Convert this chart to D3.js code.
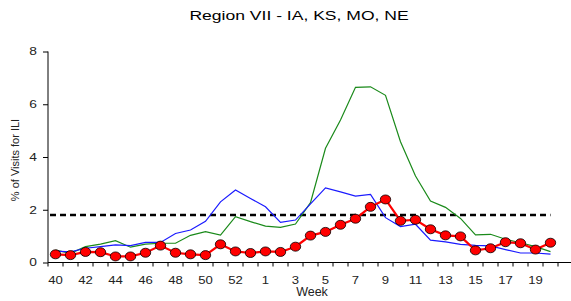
<!DOCTYPE html>
<html>
<head>
<meta charset="utf-8">
<script src="https://cdn.jsdelivr.net/npm/d3@7"></script>
<style>
  body { margin: 0; background: #fff; }
  text { font-family: "Liberation Sans", Arial, sans-serif; }
</style>
</head>
<body>
<script>
// weeks of the season (includes week 53)
const weeks = [40, 41, 42, 43, 44, 45, 46, 47, 48, 49, 50, 51, 52, 53,
  1, 2, 3, 4, 5, 6, 7, 8, 9, 10, 11, 12, 13, 14, 15, 16, 17, 18, 19, 20];

// current season (red with markers)
const current = [0.31, 0.28, 0.40, 0.39, 0.23, 0.23, 0.37, 0.64, 0.37, 0.31,
  0.28, 0.69, 0.42, 0.36, 0.42, 0.40, 0.60, 1.02, 1.16, 1.43, 1.66, 2.11,
  2.39, 1.58, 1.62, 1.26, 1.03, 0.99, 0.46, 0.54, 0.77, 0.73, 0.49, 0.75];

// previous season (blue)
const blueSeason = [0.43, 0.40, 0.54, 0.60, 0.67, 0.64, 0.76, 0.76, 1.10, 1.23,
  1.56, 2.30, 2.75, 2.43, 2.11, 1.52, 1.61, 2.22, 2.83, 2.68, 2.52, 2.58,
  1.70, 1.36, 1.45, 0.85, 0.78, 0.69, 0.65, 0.63, 0.49, 0.36, 0.36, 0.32];

// another season (green)
const greenSeason = [0.47, 0.35, 0.60, 0.70, 0.83, 0.58, 0.70, 0.73, 0.73, 1.03,
  1.17, 1.04, 1.74, 1.55, 1.38, 1.33, 1.46, 2.27, 4.33, 5.40, 6.64, 6.66,
  6.34, 4.58, 3.28, 2.33, 2.09, 1.67, 1.05, 1.07, 0.88, 0.75, 0.60, 0.41];

const baseline = 1.8;
const yTicks = [0, 2, 4, 6, 8];
const xLabels = [40, 42, 44, 46, 48, 50, 52, 1, 3, 5, 7, 9, 11, 13, 15, 17, 19];

const width = 571;
const height = 301;
const mLeft = 48;
const mRight = 558;
const mTop = 51.5;
const mBottom = 262.5;

// the source text looks a bit wide, stretch horizontally
const stretch = 1.25;

const svg = d3.select("body").append("svg")
  .attr("width", width)
  .attr("height", height);

// scales
const xScale = d3.scaleBand()
  .domain(d3.range(weeks.length))
  .range([mLeft, mRight]);

const xc = (i) => xScale(i) + xScale.bandwidth() / 2;

const yScale = d3.scaleLinear()
  .domain([0, 8])
  .range([mBottom, mTop]);

// title
svg.append("text")
  .attr("transform", "translate(299,20) scale(1.3,1)")
  .attr("text-anchor", "middle")
  .style("font-size", "13.5px")
  .text("Region VII - IA, KS, MO, NE");

// y axis
const yAxis = svg.append("g")
  .attr("transform", "translate(" + mLeft + ",0)")
  .call(d3.axisLeft(yScale).tickValues(yTicks).tickSize(5).tickFormat(""));
yAxis.select(".domain").attr("d", "M0," + mTop + "V" + mBottom).attr("stroke", "#000");
yAxis.selectAll(".tick line").attr("stroke", "#000");
yAxis.selectAll(".ylbl")
  .data(yTicks)
  .enter()
  .append("text")
  .attr("transform", (d) => "translate(-11," + yScale(d) + ") scale(" + stretch + ",1)")
  .attr("dy", "0.36em")
  .attr("text-anchor", "end")
  .style("font-size", "11px")
  .attr("fill", "#222")
  .text((d) => d);

// x axis: ticks at band edges, labels at band centres
const xAxis = svg.append("g").attr("transform", "translate(0," + mBottom + ")");
xAxis.append("line")
  .attr("x1", mLeft).attr("x2", width)
  .attr("stroke", "#000");
xAxis.selectAll(".tick")
  .data(d3.range(weeks.length + 1))
  .enter()
  .append("line")
  .attr("x1", (i) => mLeft + i * xScale.step())
  .attr("x2", (i) => mLeft + i * xScale.step())
  .attr("y1", 0)
  .attr("y2", 4)
  .attr("stroke", "#000");
xAxis.selectAll(".lbl")
  .data(weeks.map((w, i) => ({ w, i })).filter((d) => xLabels.includes(d.w)))
  .enter()
  .append("text")
  .attr("transform", (d) => "translate(" + xc(d.i) + ",21) scale(" + stretch + ",1)")
  .attr("text-anchor", "middle")
  .style("font-size", "10.5px")
  .attr("fill", "#222")
  .text((d) => d.w);

// axis labels
svg.append("text")
  .attr("x", 312)
  .attr("y", 296)
  .attr("text-anchor", "middle")
  .style("font-size", "12.5px")
  .attr("fill", "#222")
  .text("Week");

svg.append("text")
  .attr("transform", "translate(19," + 160 + ") rotate(-90)")
  .attr("text-anchor", "middle")
  .style("font-size", "11px")
  .attr("fill", "#222")
  .text("% of Visits for ILI");

// baseline
svg.append("line")
  .attr("x1", mLeft + 2)
  .attr("x2", xc(weeks.length - 1))
  .attr("y1", yScale(baseline))
  .attr("y2", yScale(baseline))
  .attr("stroke", "#000")
  .attr("stroke-width", 2.5)
  .attr("stroke-dasharray", "6,4");

const line = d3.line()
  .x((d, i) => xc(i))
  .y((d) => yScale(d));

svg.append("path")
  .datum(greenSeason)
  .attr("d", line)
  .attr("fill", "none")
  .attr("stroke", "#1a8a1a")
  .attr("stroke-width", 1.2);

svg.append("path")
  .datum(blueSeason)
  .attr("d", line)
  .attr("fill", "none")
  .attr("stroke", "#1a1aff")
  .attr("stroke-width", 1.2);

svg.append("path")
  .datum(current)
  .attr("d", line)
  .attr("fill", "none")
  .attr("stroke", "#ff0000")
  .attr("stroke-width", 2.2);

svg.selectAll(".dot")
  .data(current)
  .enter()
  .append("ellipse")
  .attr("cx", (d, i) => xc(i))
  .attr("cy", (d) => yScale(d))
  .attr("rx", 5.2)
  .attr("ry", 4.5)
  .attr("fill", "#ff0000")
  .attr("stroke", "#000")
  .attr("stroke-width", 0.8);
</script>
</body>
</html>
